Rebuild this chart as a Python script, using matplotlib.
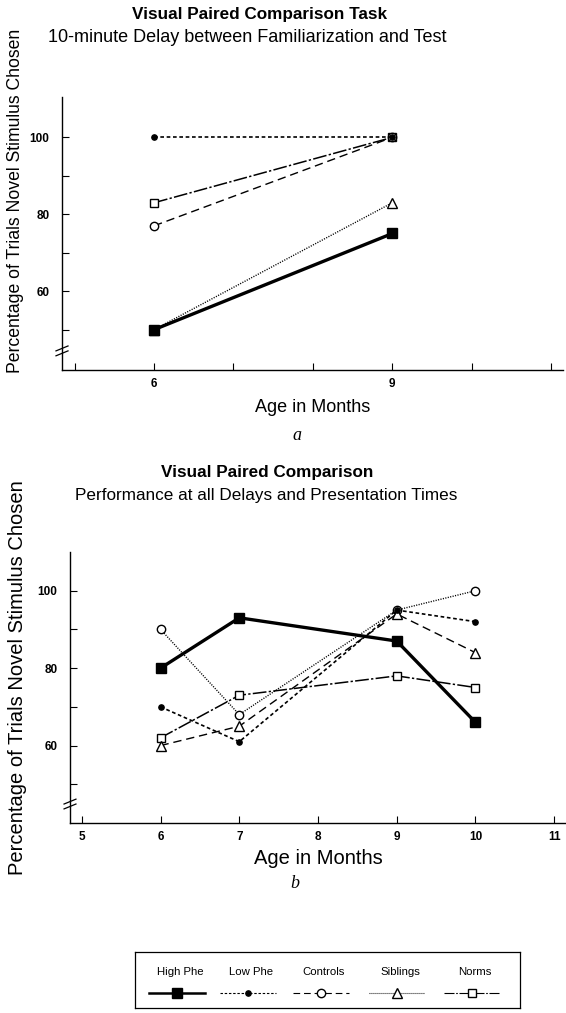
import matplotlib
matplotlib.use("Agg")
import matplotlib.pyplot as plt
from matplotlib.lines import Line2D

plt.rcParams['font.family'] = ['Liberation Sans', 'DejaVu Sans']

# ---------------- data ----------------
groups = ["High Phe", "Low Phe", "Controls", "Siblings", "Norms"]

ages_a = [6, 9]
high_phe_a = [50, 75]
low_phe_a = [100, 100]
controls_a = [77, 100]
siblings_a = [50, 83]
norms_a = [83, 100]

ages_b = [6, 7, 9, 10]
high_phe_b = [80, 93, 87, 66]
low_phe_b = [70, 61, 95, 92]
controls_b = [90, 68, 95, 100]
siblings_b = [60, 65, 94, 84]
norms_b = [62, 73, 78, 75]

xticks_a = [5, 6, 7, 8, 9, 10, 11]
xticklabels_a = ["", "6", "", "", "9", "", ""]
xticks_b = [5, 6, 7, 8, 9, 10, 11]
xticklabels_b = ["5", "6", "7", "8", "9", "10", "11"]
yticks_major = [60, 80, 100]
yticks_minor = [50, 70, 90]

# ---------------- styles ----------------
st_high = dict(color='black', lw=2.4, ls='-', marker='s', ms=6.5,
               mfc='black', mec='black')
st_low = dict(color='black', lw=1.2, ls=(0, (2.2, 1.6)), marker='o', ms=3.8,
              mfc='black', mec='black')
st_ctrl = dict(color='black', lw=1.0, ls=(0, (6, 3.5)), marker='o', ms=6,
               mfc='white', mec='black', mew=1.0)
st_sib = dict(color='black', lw=1.0, ls=(0, (0.8, 1.0)), marker='^', ms=6.5,
              mfc='white', mec='black', mew=1.0)
st_norm = dict(color='black', lw=1.1, ls=(0, (9, 1.5, 1.5, 1.5)), marker='s',
               ms=6, mfc='white', mec='black', mew=1.0)
# panel b: circle series drawn dotted, triangle series dashed (as in original)
st_ctrl_b = dict(st_ctrl, ls=(0, (0.8, 1.0)))
st_sib_b = dict(st_sib, ls=(0, (6, 3.5)))

W, H = 566, 1013
fig = plt.figure(figsize=(W / 100, H / 100), dpi=100)


def fx(px):
    return px / W


def fy(py):
    return 1 - py / H


def style_axes(ax, xticks, xlabels, xlim, ylim):
    for s in ['top', 'right']:
        ax.spines[s].set_visible(False)
    for s in ['left', 'bottom']:
        ax.spines[s].set_linewidth(1.0)
    ax.set_xlim(*xlim)
    ax.set_ylim(*ylim)
    ax.set_xticks(xticks)
    ax.set_xticklabels(xlabels, fontsize=8.5, fontweight='bold')
    ax.set_yticks(yticks_major)
    ax.set_yticklabels([str(v) for v in yticks_major], fontsize=8.5,
                       fontweight='bold')
    ax.set_yticks(yticks_minor, minor=True)
    ax.tick_params(axis='both', which='both', direction='in', length=5,
                   width=0.8)
    ax.tick_params(axis='x', which='major', pad=6)
    ax.tick_params(axis='y', which='major', pad=9)
    # axis break marks on y-axis
    for dy in (0.0, 0.018):
        ax.plot([-0.012, 0.012], [0.052 + dy, 0.070 + dy],
                transform=ax.transAxes, color='black', lw=0.9,
                clip_on=False)


# ---------------- panel a ----------------
axa = fig.add_axes([fx(62), fy(370), fx(563) - fx(62), fy(97) - fy(370)])
style_axes(axa, xticks_a, xticklabels_a, (4.84, 11.15), (39.5, 110.5))
axa.plot(ages_a, norms_a, **st_norm)
axa.plot(ages_a, controls_a, **st_ctrl)
axa.plot(ages_a, siblings_a, **st_sib)
axa.plot(ages_a, low_phe_a, **st_low)
axa.plot(ages_a, high_phe_a, **st_high)
axa.set_xlabel("Age in Months", fontsize=13, labelpad=6)

fig.text(fx(260), fy(14), "Visual Paired Comparison Task", ha='center',
         va='center', fontsize=12.3, fontweight='bold')
fig.text(fx(247), fy(37), "10-minute Delay between Familiarization and Test",
         ha='center', va='center', fontsize=13)
fig.text(fx(16), fy(201), "Percentage of Trials Novel Stimulus Chosen",
         rotation=90, ha='center', va='center', fontsize=12.7)
fig.text(fx(297), fy(435), "a", ha='center', va='center', fontsize=13,
         style='italic', family=['Liberation Serif', 'DejaVu Serif'])

# ---------------- panel b ----------------
axb = fig.add_axes([fx(70), fy(823), fx(566) - fx(70), fy(552) - fy(823)])
style_axes(axb, xticks_b, xticklabels_b, (4.85, 11.15), (40, 110))
axb.plot(ages_b, norms_b, **st_norm)
axb.plot(ages_b, controls_b, **st_ctrl_b)
axb.plot(ages_b, siblings_b, **st_sib_b)
axb.plot(ages_b, low_phe_b, **st_low)
axb.plot(ages_b, high_phe_b, **st_high)
axb.set_xlabel("Age in Months", fontsize=14.5, labelpad=4)

fig.text(fx(267), fy(472), "Visual Paired Comparison", ha='center',
         va='center', fontsize=12.3, fontweight='bold')
fig.text(fx(266), fy(495), "Performance at all Delays and Presentation Times",
         ha='center', va='center', fontsize=12.3)
fig.text(fx(18), fy(678), "Percentage of Trials Novel Stimulus Chosen",
         rotation=90, ha='center', va='center', fontsize=14.5)
fig.text(fx(295), fy(884), "b", ha='center', va='center', fontsize=13,
         style='italic', family=['Liberation Serif', 'DejaVu Serif'])

# ---------------- legend ----------------
box_l, box_r, box_t, box_b = 135, 520, 952, 1008
axl = fig.add_axes([fx(box_l), fy(box_b), fx(box_r) - fx(box_l),
                    fy(box_t) - fy(box_b)])
axl.set_xlim(box_l, box_r)
axl.set_ylim(box_b, box_t)
axl.set_xticks([])
axl.set_yticks([])
for s in axl.spines.values():
    s.set_linewidth(0.9)
leg_centers = [177, 248, 321, 397, 472]
leg_styles = [st_high, st_low, st_ctrl, st_sib, st_norm]
for cx, name, st in zip(leg_centers, groups, leg_styles):
    axl.text(cx + 3, 972, name, ha='center', va='center', fontsize=8.2)
    line_st = {k: v for k, v in st.items() if not k.startswith('m')}
    if st is st_high:
        line_st['lw'] = 1.8
    else:
        line_st['lw'] = 0.8
    axl.add_line(Line2D([cx - 28, cx + 28], [993, 993], **line_st))
    mk = {k: v for k, v in st.items() if k.startswith('m')}
    axl.add_line(Line2D([cx], [993], ls='none', **mk))

fig.savefig("out.png", dpi=100)
